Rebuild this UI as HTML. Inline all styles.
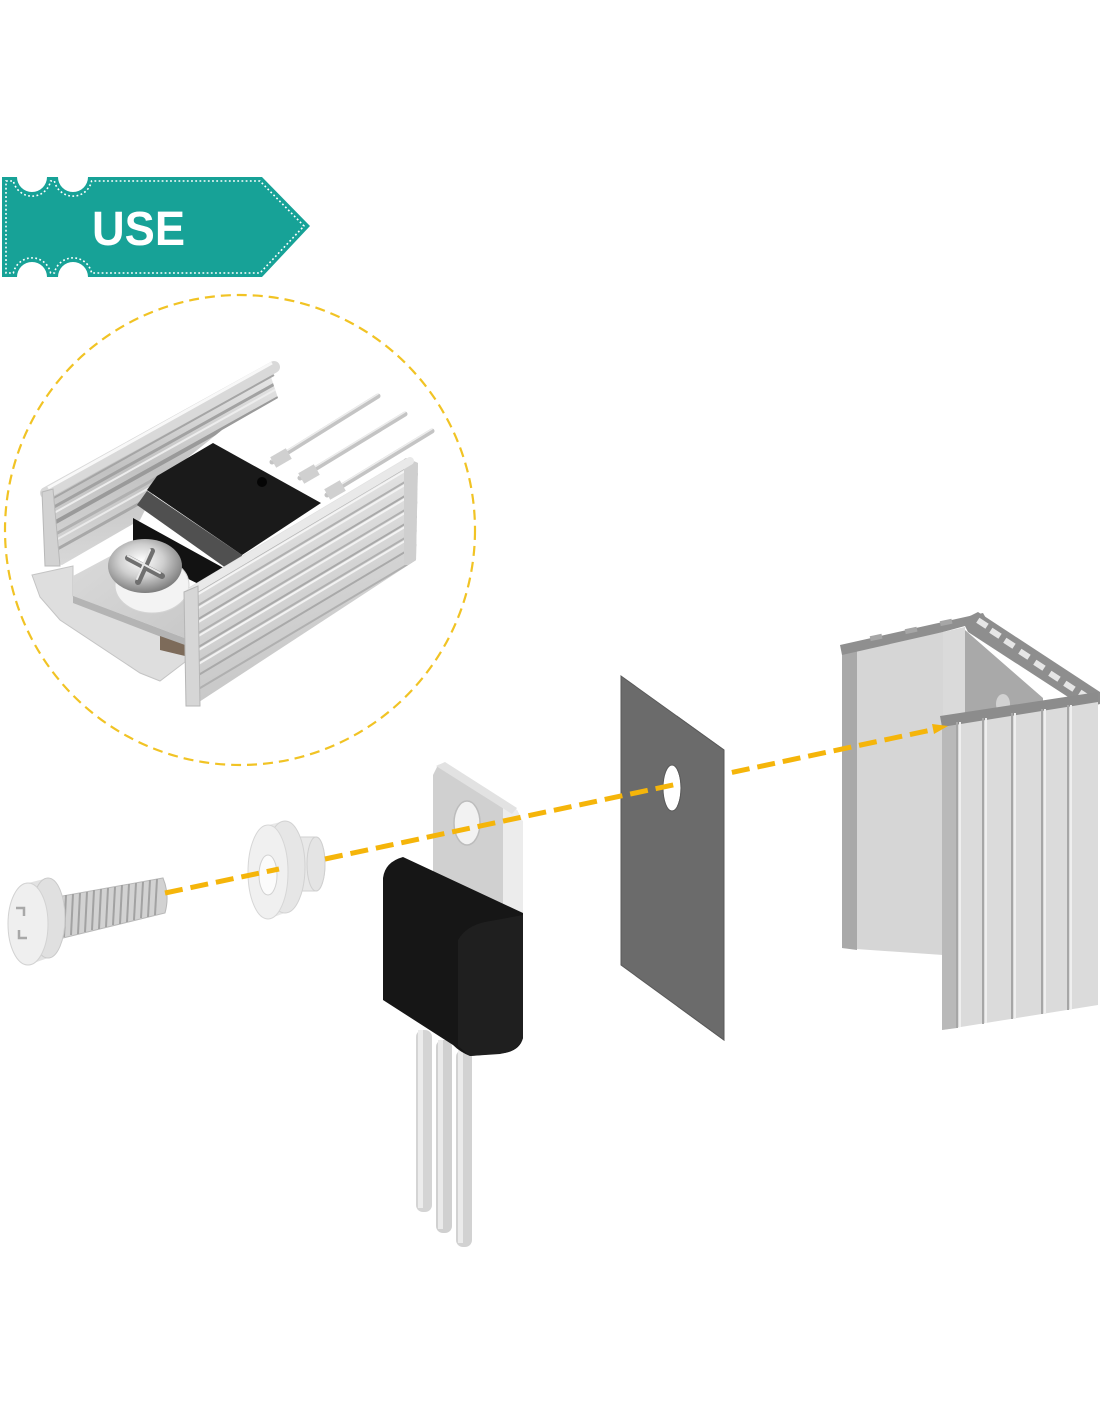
<!DOCTYPE html>
<html><head><meta charset="utf-8"><style>
html,body{margin:0;padding:0;background:#fff;}
svg{display:block;}
</style></head><body>
<svg width="1100" height="1422" viewBox="0 0 1100 1422" xmlns="http://www.w3.org/2000/svg">
<defs>
<linearGradient id="wallG" x1="0" y1="0" x2="0" y2="1"><stop offset="0" stop-color="#e6e6e6"/><stop offset="0.5" stop-color="#c2c2c2"/><stop offset="1" stop-color="#d8d8d8"/></linearGradient>
<linearGradient id="finG" x1="0" y1="0" x2="0.3" y2="1"><stop offset="0" stop-color="#eeeeee"/><stop offset="0.6" stop-color="#d4d4d4"/><stop offset="1" stop-color="#c6c6c6"/></linearGradient>
<radialGradient id="screwG" cx="0.45" cy="0.4" r="0.6"><stop offset="0" stop-color="#ffffff"/><stop offset="0.5" stop-color="#cfcfcf"/><stop offset="1" stop-color="#7e7e7e"/></radialGradient>
<linearGradient id="tabG" x1="0" y1="0" x2="1" y2="1"><stop offset="0" stop-color="#dadada"/><stop offset="1" stop-color="#c8c8c8"/></linearGradient>
<clipPath id="finClip"><polygon points="188,588 406,458 418,463 416,560 196,704 186,700"/></clipPath>
<clipPath id="wallClip"><polygon points="50,497 270,374 278,398 222,430 160,480 140,520 62,565 50,562"/></clipPath>
<clipPath id="padR"><rect x="677" y="600" width="100" height="500"/></clipPath>
</defs>

<!-- Banner -->
<path d="M2,177 H17 A15,15 0 0 0 47,177 H58 A15,15 0 0 0 88,177 H262 L310,226 L262,277 H88 A15,15 0 0 0 58,277 H47 A15,15 0 0 0 17,277 H2 Z" fill="#17a297"/>
<path d="M6,181 H13.4 A19,19 0 0 0 50.6,181 H54.4 A19,19 0 0 0 91.6,181 H260 L304,226 L260,273 H91.6 A19,19 0 0 0 54.4,273 H50.6 A19,19 0 0 0 13.4,273 H6 Z" fill="none" stroke="#ffffff" stroke-width="1.6" stroke-dasharray="1.8 2.4"/>
<text x="92" y="245" font-family="Liberation Sans, sans-serif" font-weight="bold" font-size="48" fill="#ffffff" textLength="93" lengthAdjust="spacingAndGlyphs">USE</text>

<!-- Dashed circle -->
<circle cx="240" cy="530" r="235" fill="none" stroke="#f1c324" stroke-width="2.2" stroke-dasharray="10 6"/>

<!-- Inset photo: left wall -->
<polygon points="50,497 270,374 278,398 222,430 160,480 140,520 62,565 50,562" fill="url(#wallG)"/>
<g clip-path="url(#wallClip)">
<line x1="45" y1="512" x2="280" y2="381" stroke="#a2a2a2" stroke-width="3"/>
<line x1="45" y1="518" x2="280" y2="387" stroke="#ededed" stroke-width="2"/>
<line x1="45" y1="528" x2="280" y2="397" stroke="#9a9a9a" stroke-width="4"/>
<line x1="45" y1="540" x2="280" y2="409" stroke="#b0b0b0" stroke-width="3"/>
<line x1="45" y1="546" x2="280" y2="415" stroke="#eaeaea" stroke-width="2"/>
<line x1="45" y1="556" x2="280" y2="425" stroke="#a8a8a8" stroke-width="3"/>
</g>
<line x1="46" y1="493" x2="274" y2="367" stroke="#d9d9d9" stroke-width="12" stroke-linecap="round"/>
<line x1="48" y1="488" x2="272" y2="363" stroke="#f8f8f8" stroke-width="3"/>
<line x1="50" y1="500" x2="274" y2="375" stroke="#a5a5a5" stroke-width="2"/>
<polygon points="42,492 53,489 60,566 45,566" fill="#d2d2d2" stroke="#b8b8b8" stroke-width="1"/>

<!-- pins -->
<g stroke-linecap="round">
<line x1="272" y1="462" x2="378" y2="396" stroke="#c4c4c4" stroke-width="5"/>
<line x1="272" y1="460" x2="378" y2="394" stroke="#ececec" stroke-width="1.5"/>
<line x1="300" y1="478" x2="405" y2="414" stroke="#c4c4c4" stroke-width="5"/>
<line x1="300" y1="476" x2="405" y2="412" stroke="#ececec" stroke-width="1.5"/>
<line x1="327" y1="495" x2="432" y2="431" stroke="#c4c4c4" stroke-width="5"/>
<line x1="327" y1="493" x2="432" y2="429" stroke="#ececec" stroke-width="1.5"/>
</g>
<rect x="272" y="452" width="18" height="12" fill="#d0d0d0" transform="rotate(-30 281 458)"/>
<rect x="300" y="468" width="18" height="12" fill="#d0d0d0" transform="rotate(-30 309 474)"/>
<rect x="326" y="484" width="18" height="12" fill="#d0d0d0" transform="rotate(-30 335 490)"/>

<!-- black transistor in inset -->
<polygon points="133,518 240,577 215,592 133,552" fill="#121212"/>
<polygon points="137,505 147,491 242,555 240,578" fill="#505050"/>
<polygon points="147,490 157,476 213,443 321,503 242,555" fill="#1a1a1a"/>
<circle cx="262" cy="482" r="5" fill="#050505"/>

<!-- pad -->
<polygon points="32,575 73,566 73,596 187,640 185,662 160,681 140,673 60,620 40,597" fill="#dedede" stroke="#c4c4c4" stroke-width="1"/>
<!-- metal tab -->
<polygon points="73,576 118,552 190,592 190,640 73,596" fill="url(#tabG)"/>
<polygon points="73,596 190,640 190,648 73,603" fill="#b4b4b4"/>
<polygon points="160,636 185,645 185,656 160,650" fill="#7d6b5a"/>
<!-- washer + screw -->
<ellipse cx="152" cy="585" rx="37" ry="28" fill="#f3f3f3" stroke="#d4d4d4" stroke-width="1"/>
<ellipse cx="145" cy="566" rx="37" ry="27" fill="url(#screwG)"/>
<path d="M128,558 L162,576 M152,551 L138,582" stroke="#6f6f6f" stroke-width="6" stroke-linecap="round"/>
<path d="M128,556 L160,573 M150,550 L137,579" stroke="#e8e8e8" stroke-width="2" stroke-linecap="round"/>

<!-- front fin -->
<polygon points="188,588 406,458 418,463 416,560 196,704 186,700" fill="url(#finG)"/>
<g clip-path="url(#finClip)">
<line x1="180" y1="602" x2="420" y2="459" stroke="#a9a9a9" stroke-width="2"/>
<line x1="180" y1="605" x2="420" y2="462" stroke="#f4f4f4" stroke-width="2"/>
<line x1="180" y1="616" x2="420" y2="473" stroke="#b0b0b0" stroke-width="2"/>
<line x1="180" y1="619" x2="420" y2="476" stroke="#f2f2f2" stroke-width="2"/>
<line x1="180" y1="630" x2="420" y2="487" stroke="#a9a9a9" stroke-width="2"/>
<line x1="180" y1="633" x2="420" y2="490" stroke="#f4f4f4" stroke-width="2"/>
<line x1="180" y1="644" x2="420" y2="501" stroke="#b0b0b0" stroke-width="2"/>
<line x1="180" y1="647" x2="420" y2="504" stroke="#f2f2f2" stroke-width="2"/>
<line x1="180" y1="658" x2="420" y2="515" stroke="#a9a9a9" stroke-width="2"/>
<line x1="180" y1="661" x2="420" y2="518" stroke="#f4f4f4" stroke-width="2"/>
<line x1="180" y1="672" x2="420" y2="529" stroke="#b0b0b0" stroke-width="2"/>
<line x1="180" y1="675" x2="420" y2="532" stroke="#f2f2f2" stroke-width="2"/>
<line x1="180" y1="686" x2="420" y2="543" stroke="#a9a9a9" stroke-width="2"/>
<line x1="180" y1="700" x2="420" y2="557" stroke="#b0b0b0" stroke-width="2"/>
<rect x="404" y="455" width="16" height="110" fill="#cfcfcf"/>
</g>
<line x1="190" y1="592" x2="410" y2="461" stroke="#e9e9e9" stroke-width="8" stroke-linecap="round"/>
<polygon points="184,592 198,586 200,706 186,706" fill="#d6d6d6" stroke="#b6b6b6" stroke-width="1"/>

<!-- ===== Exploded view ===== -->
<!-- screw -->
<path d="M57,897 L163,878 Q170,895 165,913 L63,938 Z" fill="#d2d2d2" stroke="#b8b8b8" stroke-width="1"/>
<g stroke="#a2a2a2" stroke-width="2">
<line x1="66" y1="895" x2="64" y2="937"/><line x1="73" y1="894" x2="71" y2="935"/>
<line x1="80" y1="893" x2="78" y2="934"/><line x1="87" y1="892" x2="85" y2="932"/>
<line x1="94" y1="890" x2="92" y2="930"/><line x1="101" y1="889" x2="99" y2="929"/>
<line x1="108" y1="888" x2="106" y2="927"/><line x1="115" y1="887" x2="113" y2="925"/>
<line x1="122" y1="885" x2="120" y2="924"/><line x1="129" y1="884" x2="127" y2="922"/>
<line x1="136" y1="883" x2="134" y2="920"/><line x1="143" y1="882" x2="141" y2="918"/>
<line x1="150" y1="880" x2="148" y2="917"/><line x1="157" y1="879" x2="155" y2="915"/>
</g>
<path d="M28,883 L48,878 A17,40 0 0 1 48,958 L28,965 Z" fill="#e2e2e2"/>
<ellipse cx="48" cy="918" rx="17" ry="40" fill="#e0e0e0" stroke="#cacaca" stroke-width="1"/>
<ellipse cx="28" cy="924" rx="20" ry="41" fill="#efefef" stroke="#d2d2d2" stroke-width="1"/>
<path d="M16,908 H24 V916 M19,930 V938 H27" fill="none" stroke="#a8a8a8" stroke-width="2.5"/>

<!-- washer -->
<path d="M300,837 L316,837 A9,27 0 0 1 316,891 L300,891 Z" fill="#e8e8e8" stroke="#d2d2d2" stroke-width="1"/>
<ellipse cx="316" cy="864" rx="9" ry="27" fill="#e4e4e4" stroke="#d0d0d0" stroke-width="1"/>
<path d="M268,825 L285,821 A20,46 0 0 1 285,913 L268,919 Z" fill="#e8e8e8"/>
<ellipse cx="285" cy="867" rx="20" ry="46" fill="#e6e6e6" stroke="#d2d2d2" stroke-width="1"/>
<ellipse cx="268" cy="872" rx="20" ry="47" fill="#f0f0f0" stroke="#d6d6d6" stroke-width="1"/>
<ellipse cx="268" cy="875" rx="9" ry="20" fill="#fbfbfb" stroke="#d2d2d2" stroke-width="1"/>

<!-- transistor legs -->
<g>
<rect x="416" y="1030" width="16" height="182" rx="7" fill="#d4d4d4"/>
<rect x="418" y="1030" width="5" height="178" fill="#ececec"/>
<rect x="436" y="1040" width="16" height="193" rx="7" fill="#d0d0d0"/>
<rect x="438" y="1040" width="5" height="189" fill="#eaeaea"/>
<rect x="456" y="1050" width="16" height="197" rx="7" fill="#d2d2d2"/>
<rect x="458" y="1050" width="5" height="193" fill="#ebebeb"/>
</g>
<!-- tab -->
<polygon points="433,775 438,765 445,763 517,810 523,822 523,913 433,872" fill="#d0d0d0"/>
<polygon points="503,800 517,810 523,822 523,913 503,905" fill="#ececec"/>
<polygon points="436,766 445,762 517,808 512,814" fill="#e2e2e2"/>
<ellipse cx="467" cy="823" rx="13" ry="22" fill="#f2f2f2" stroke="#bdbdbd" stroke-width="1.5"/>
<!-- body -->
<path d="M383,878 Q385,862 403,857 L523,913 L523,1038 Q520,1050 505,1053 L470,1056 Q460,1052 453,1045 L383,1000 Z" fill="#161616"/>
<path d="M458,940 Q466,926 485,922 L523,915 L523,1038 Q518,1051 500,1054 L470,1056 L458,1046 Z" fill="#1f1f1f"/>

<!-- thermal pad -->
<g id="pad">
<path d="M621,676 L724,750 L724,1040 L621,965 Z M663,788 A9,23 0 1 0 681,788 A9,23 0 1 0 663,788 Z" fill="#6b6b6b" fill-rule="evenodd" stroke="#5a5a5a" stroke-width="1"/>
</g>

<!-- heatsink -->
<polygon points="842,650 943,632 943,955 842,948" fill="#d6d6d6"/>
<polygon points="842,650 857,647 857,950 842,948" fill="#a9a9a9"/>
<polygon points="840,645 983,613 987,620 943,632 842,655" fill="#8f8f8f"/>
<g fill="#a6a6a6"><rect x="870" y="635" width="12" height="5" transform="rotate(-12 876 637)"/><rect x="905" y="628" width="12" height="5" transform="rotate(-12 911 630)"/><rect x="940" y="620" width="12" height="5" transform="rotate(-12 946 622)"/></g>
<polygon points="943,632 965,627 965,716 943,720" fill="#dadada"/>
<polygon points="965,630 1043,698 1043,712 965,716" fill="#a9a9a9"/>
<ellipse cx="1003" cy="704" rx="7" ry="10" fill="#d2d2d2"/>
<polygon points="962,620 978,612 1100,692 1100,704 1085,708 968,632" fill="#8e8e8e"/>
<g fill="#e6e6e6">
<rect x="977" y="620" width="11" height="6" transform="rotate(33 982 623)"/>
<rect x="990" y="630" width="11" height="6" transform="rotate(33 995 633)"/>
<rect x="1004" y="640" width="11" height="6" transform="rotate(33 1009 643)"/>
<rect x="1019" y="651" width="11" height="6" transform="rotate(33 1024 654)"/>
<rect x="1034" y="662" width="11" height="6" transform="rotate(33 1039 665)"/>
<rect x="1049" y="673" width="11" height="6" transform="rotate(33 1054 676)"/>
<rect x="1064" y="683" width="11" height="6" transform="rotate(33 1069 686)"/>
<rect x="1079" y="692" width="11" height="6" transform="rotate(33 1084 695)"/>
</g>
<!-- front panel -->
<polygon points="942,724 1098,700 1098,1005 942,1030" fill="#dbdbdb"/>
<polygon points="942,724 957,722 957,1028 942,1030" fill="#b9b9b9"/>
<polygon points="940,716 1098,692 1098,702 942,727" fill="#8c8c8c"/>
<g stroke="#a6a6a6" stroke-width="2">
<line x1="957" y1="722" x2="957" y2="1028"/>
<line x1="983" y1="718" x2="983" y2="1024"/>
<line x1="1012" y1="713" x2="1012" y2="1019"/>
<line x1="1042" y1="709" x2="1042" y2="1014"/>
<line x1="1068" y1="705" x2="1068" y2="1010"/>
</g>
<g stroke="#efefef" stroke-width="2">
<line x1="960" y1="722" x2="960" y2="1027"/>
<line x1="986" y1="718" x2="986" y2="1023"/>
<line x1="1015" y1="713" x2="1015" y2="1018"/>
<line x1="1045" y1="709" x2="1045" y2="1014"/>
<line x1="1071" y1="705" x2="1071" y2="1009"/>
</g>

<!-- dashed guide line -->
<g stroke="#f5b50a" stroke-width="5" stroke-dasharray="18 8" fill="none">
<line x1="165" y1="893" x2="279" y2="869"/>
<line x1="325" y1="859" x2="936" y2="729"/>
</g>
<polygon points="948,726 934,734 932,724" fill="#f5b50a"/>
<!-- pad part in front of line (right of hole) -->
<g clip-path="url(#padR)">
<path d="M621,676 L724,750 L724,1040 L621,965 Z M663,788 A9,23 0 1 0 681,788 A9,23 0 1 0 663,788 Z" fill="#6b6b6b" fill-rule="evenodd" stroke="#5a5a5a" stroke-width="1"/>
</g>
</svg>
</body></html>
